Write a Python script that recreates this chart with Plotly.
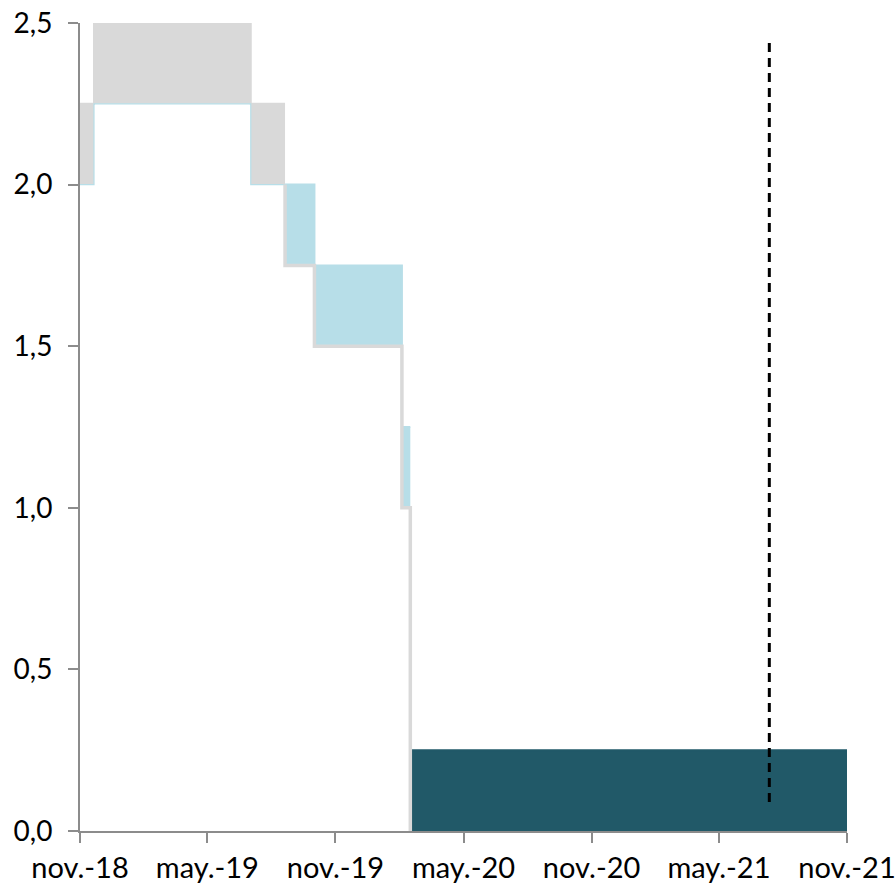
import plotly.graph_objects as go

# Policy rate target range (%), step changes by effective date
change_dates = ["2018-11-30", "2018-12-20", "2019-08-01", "2019-09-19",
                "2019-10-31", "2020-03-04", "2020-03-16"]
range_low = [2.00, 2.25, 2.00, 1.75, 1.50, 1.00, 0.00]
range_high = [2.25, 2.50, 2.25, 2.00, 1.75, 1.25, 0.25]
end_date = "2021-11-30"

# Periods shown in different colours: (first index, last index)
periods = [(0, 2), (3, 5), (6, 6)]
period_fill = ["#D9D9D9", "#B7DEE8", "#215968"]
period_edge = ["#B7DEE8", "#D9D9D9", "#215968"]
period_edge_w = [1.2, 3.5, 0]

# Vertical reference marker
marker_date = "2021-08-11"
marker_y = [0.09, 2.44]

# Axis ticks
tick_dates = ["2018-11-30", "2019-05-31", "2019-11-30", "2020-05-31",
              "2020-11-30", "2021-05-31", "2021-11-30"]
tick_text = ["nov.-18", "may.-19", "nov.-19", "may.-20",
             "nov.-20", "may.-21", "nov.-21"]

FONT = "Lato"
AXIS_COLOR = "#8C8C8C"

fig = go.Figure()

for k, (i, j) in enumerate(periods):
    nxt = change_dates[j + 1] if j + 1 < len(change_dates) else end_date
    xs = change_dates[i:j + 1] + [nxt]
    lo = range_low[i:j + 1] + [range_low[j]]
    hi = range_high[i:j + 1] + [range_high[j]]
    # lower bound (base of fill)
    fig.add_trace(go.Scatter(x=xs, y=lo, mode="lines", line_shape="hv",
                             line=dict(color=period_fill[k], width=0),
                             hoverinfo="skip", showlegend=False))
    # upper bound, filled down to lower bound
    fig.add_trace(go.Scatter(x=xs, y=hi, mode="lines", line_shape="hv",
                             fill="tonexty", fillcolor=period_fill[k],
                             line=dict(color=period_fill[k], width=2),
                             hoverinfo="skip", showlegend=False))

# Outline along the lower edge of each period
for k, (i, j) in enumerate(periods):
    if period_edge_w[k] == 0:
        continue
    nxt_i = j + 1
    if nxt_i < len(change_dates):
        xs = [change_dates[i]] + change_dates[i:j + 1] + [change_dates[nxt_i]]
        prev = range_low[i - 1] if i > 0 else range_low[i]
        ys = [prev] + range_low[i:j + 1] + [range_low[nxt_i]]
    else:
        xs = change_dates[i:j + 1] + [end_date]
        ys = range_low[i:j + 1] + [range_low[j]]
    fig.add_trace(go.Scatter(x=xs, y=ys, mode="lines", line_shape="hv",
                             line=dict(color=period_edge[k], width=period_edge_w[k]),
                             hoverinfo="skip", showlegend=False))

# Dashed vertical marker
fig.add_trace(go.Scatter(x=[marker_date, marker_date], y=marker_y, mode="lines",
                         line=dict(color="black", width=3, dash="9px,6px"),
                         hoverinfo="skip", showlegend=False))

fig.update_layout(
    width=896, height=892,
    margin=dict(l=80, r=49, t=23, b=61),
    paper_bgcolor="white", plot_bgcolor="white",
    separators=",.",
    font=dict(family=FONT, size=28, color="black"),
    showlegend=False,
)
fig.update_xaxes(
    type="date", range=[tick_dates[0], tick_dates[-1]],
    tickvals=tick_dates, ticktext=tick_text, automargin=False,
    showgrid=False, zeroline=False,
    showline=True, linecolor=AXIS_COLOR, linewidth=2,
    ticks="outside", ticklen=10, tickwidth=2, tickcolor=AXIS_COLOR,
    tickfont=dict(family=FONT, size=29, color="black"),
)
fig.update_yaxes(
    range=[0, 2.5], tick0=0, dtick=0.5, tickformat=".1f", automargin=False,
    showgrid=False, zeroline=False,
    showline=True, linecolor=AXIS_COLOR, linewidth=2,
    ticks="outside", ticklen=10, tickwidth=2, tickcolor=AXIS_COLOR,
    tickfont=dict(family=FONT, size=28, color="black"),
    ticklabelstandoff=10,
)

fig.write_html("out.html")
